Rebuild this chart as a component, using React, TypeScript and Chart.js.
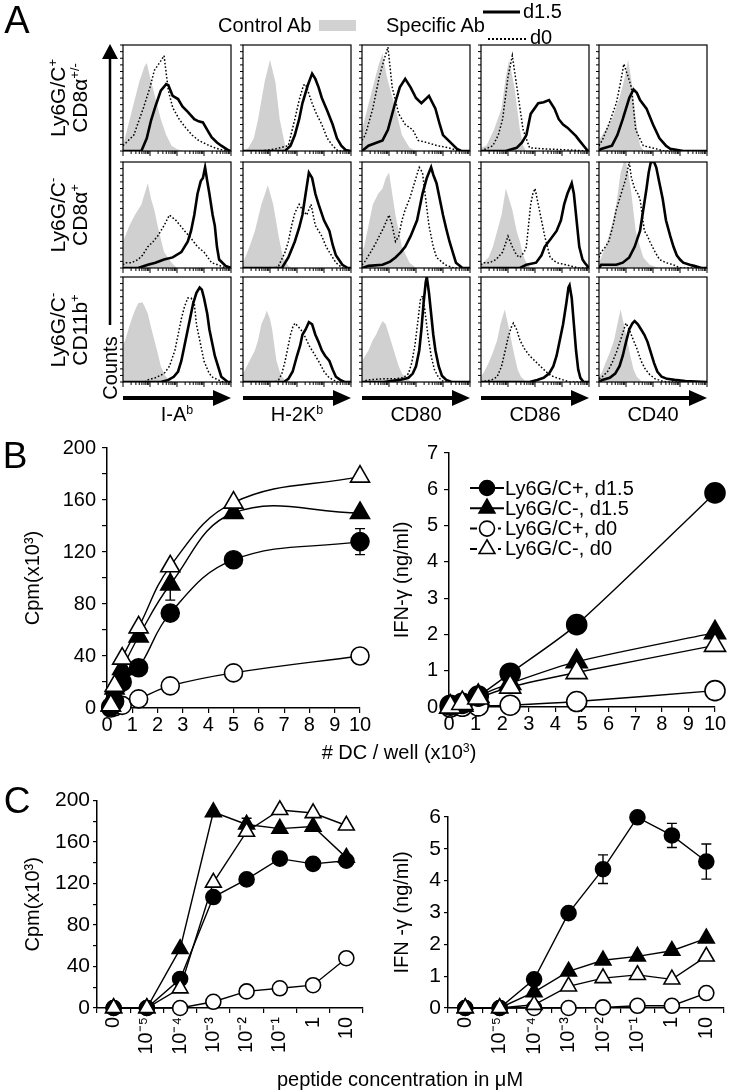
import React, { useEffect, useRef } from 'react';
import { Chart, registerables } from 'chart.js';

Chart.register(...registerables);

const FONT = "'Liberation Sans', Arial, Helvetica, sans-serif";
Chart.defaults.font.family = FONT;
Chart.defaults.color = '#000';

// ---------------- Panel A: histogram data ([fluorescence %, counts %]) ----------------
const h11Ctrl = [[0,5],[5,25],[10,45],[15,65],[20,80],[22,83],[25,70],[30,50],[35,30],[40,15],[45,5],[50,2],[55,0],[100,0]];
const h11D0 = [[0,5],[10,15],[19,41],[25,60],[29,76],[35,85],[38,90],[42,57],[46,41],[52,30],[58,22],[64,15],[70,10],[78,6],[85,3],[92,1],[100,0]];
const h11D15 = [[0,0],[17,0],[22,12],[26,29],[30,42],[35,57],[40,63],[42,62],[46,52],[51,49],[55,42],[60,37],[66,30],[70,28],[74,27],[78,20],[82,13],[87,8],[91,5],[97,1],[100,0]];

const h12Ctrl = [[0,0],[5,3],[10,12],[14,30],[20,65],[25,86],[30,65],[34,30],[39,5],[42,0],[100,0]];
const h12D0 = [[0,0],[17,0],[30,2],[42,5],[48,30],[52,48],[56,62],[58,63],[64,45],[68,35],[73,25],[78,12],[83,5],[88,0],[100,0]];
const h12D15 = [[0,0],[39,0],[44,5],[48,15],[52,30],[55,45],[60,62],[64,73],[67,68],[70,60],[73,50],[78,38],[83,25],[87,12],[91,5],[95,1],[100,0]];

const h13Ctrl = [[0,20],[5,40],[10,60],[15,80],[19,92],[23,70],[27,55],[31,40],[37,15],[44,3],[50,0],[100,0]];
const h13D0 = [[0,10],[3,15],[10,40],[16,70],[21,88],[24,98],[28,60],[34,35],[40,25],[47,20],[52,10],[60,8],[70,5],[80,3],[90,0],[100,0]];
const h13D15 = [[0,0],[6,5],[19,10],[24,20],[28,35],[32,50],[35,60],[40,68],[45,60],[50,50],[55,45],[62,52],[68,40],[72,25],[75,15],[80,10],[88,2],[92,0],[100,0]];

const h14Ctrl = [[0,3],[5,5],[12,20],[19,40],[23,70],[26,86],[31,60],[36,20],[39,5],[42,0],[100,0]];
const h14D0 = [[0,0],[11,5],[16,15],[20,30],[25,70],[29,90],[34,55],[39,20],[45,3],[60,2],[80,1],[100,0]];
const h14D15 = [[0,0],[23,0],[33,3],[38,8],[42,15],[46,35],[53,45],[58,46],[63,48],[68,40],[72,30],[76,25],[80,22],[84,18],[88,14],[91,10],[95,5],[99,0],[100,0]];

const h15Ctrl = [[0,10],[3,15],[12,30],[19,50],[24,70],[27,86],[31,60],[34,30],[38,5],[42,0],[100,0]];
const h15D0 = [[0,5],[3,10],[9,25],[16,45],[20,65],[23,82],[27,70],[30,60],[34,20],[41,5],[53,2],[60,0],[100,0]];
const h15D15 = [[0,0],[2,2],[12,5],[17,15],[22,30],[28,50],[32,58],[35,55],[38,48],[44,40],[50,25],[56,12],[62,5],[66,2],[78,0],[100,0]];

const h21Ctrl = [[0,25],[2,30],[6,40],[11,50],[17,60],[20,70],[23,80],[26,65],[29,55],[32,40],[38,15],[45,5],[50,0],[100,0]];
const h21D0 = [[0,3],[2,5],[8,5],[14,8],[18,12],[23,20],[28,25],[32,30],[38,40],[43,50],[49,45],[53,40],[57,35],[63,28],[69,20],[75,15],[82,5],[88,3],[95,0],[100,0]];
const h21D15 = [[0,0],[14,0],[23,3],[30,5],[38,8],[46,10],[54,15],[60,25],[63,35],[66,50],[69,70],[72,82],[74,85],[76,95],[78,82],[80,70],[83,50],[85,40],[87,20],[89,8],[95,2],[100,0]];

const h22Ctrl = [[0,5],[2,10],[6,20],[11,35],[17,60],[23,78],[28,60],[33,30],[37,10],[42,2],[46,0],[100,0]];
const h22D0 = [[0,0],[30,0],[33,2],[39,15],[42,25],[45,40],[48,52],[52,60],[55,55],[59,50],[63,60],[67,40],[70,35],[73,30],[77,20],[80,15],[86,5],[92,0],[100,0]];
const h22D15 = [[0,0],[36,0],[42,10],[48,25],[52,38],[55,50],[58,70],[61,90],[64,85],[67,70],[70,60],[75,45],[80,35],[83,22],[86,12],[92,3],[97,0],[100,0]];

const h23Ctrl = [[0,15],[2,20],[6,40],[10,60],[15,70],[19,75],[22,85],[25,90],[28,70],[31,50],[34,35],[37,20],[44,5],[50,0],[100,0]];
const h23D0 = [[0,3],[2,5],[8,15],[12,22],[16,30],[20,38],[25,50],[28,40],[31,25],[34,30],[37,45],[40,55],[44,65],[47,75],[50,85],[53,95],[56,90],[59,65],[62,40],[66,20],[69,10],[77,3],[85,0],[100,0]];
const h23D15 = [[0,0],[6,2],[19,3],[26,6],[31,10],[36,15],[40,20],[45,30],[51,45],[56,70],[60,85],[64,95],[66,88],[69,80],[72,65],[75,50],[78,37],[81,25],[84,15],[87,5],[93,0],[100,0]];

const h24Ctrl = [[0,3],[2,5],[7,10],[11,20],[15,35],[19,50],[23,75],[26,65],[29,55],[33,35],[36,25],[39,12],[42,5],[46,0],[100,0]];
const h24D0 = [[0,3],[2,5],[8,5],[14,8],[20,15],[25,30],[29,20],[33,12],[36,10],[40,15],[42,20],[44,40],[46,60],[48,70],[50,75],[52,65],[54,55],[57,40],[59,30],[62,18],[64,10],[70,5],[79,3],[90,0],[100,0]];
const h24D15 = [[0,0],[36,0],[42,3],[51,5],[56,12],[59,20],[65,28],[70,35],[74,45],[77,60],[80,70],[84,80],[86,70],[87,60],[89,40],[91,20],[94,8],[96,5],[100,0]];

const h25Ctrl = [[0,5],[2,10],[6,20],[9,30],[13,45],[16,60],[20,90],[23,100],[25,100],[28,85],[30,70],[34,35],[38,20],[41,10],[47,3],[55,0],[100,0]];
const h25D0 = [[0,10],[2,15],[6,20],[9,25],[13,40],[16,55],[19,65],[22,75],[25,85],[28,100],[30,85],[33,75],[36,70],[38,65],[40,50],[42,35],[45,30],[47,25],[52,15],[56,8],[62,5],[69,3],[75,0],[100,0]];
const h25D15 = [[0,0],[2,3],[16,3],[22,5],[28,10],[33,20],[38,35],[41,55],[44,75],[46,90],[48,100],[51,100],[53,95],[56,80],[59,65],[62,45],[66,30],[69,20],[72,12],[75,8],[78,5],[84,3],[88,2],[95,0],[100,0]];

const h31Ctrl = [[0,35],[2,40],[5,50],[8,60],[11,68],[14,75],[18,76],[20,72],[23,65],[26,52],[29,40],[32,28],[35,15],[39,6],[42,3],[46,0],[100,0]];
const h31D0 = [[0,0],[20,0],[23,2],[30,4],[38,8],[43,15],[48,30],[51,45],[54,60],[57,72],[60,80],[63,80],[66,75],[68,55],[71,40],[73,30],[75,20],[79,10],[82,5],[88,2],[93,0],[100,0]];
const h31D15 = [[0,0],[35,0],[42,2],[47,5],[51,10],[54,20],[57,35],[60,50],[63,65],[65,75],[68,85],[71,90],[73,88],[75,80],[78,65],[80,50],[83,35],[85,25],[88,15],[91,5],[97,0],[100,0]];

const h32Ctrl = [[0,8],[2,12],[6,20],[11,30],[14,40],[17,55],[20,62],[22,68],[25,60],[27,50],[29,35],[31,20],[34,10],[36,5],[40,1],[44,0],[100,0]];
const h32D0 = [[0,0],[30,0],[33,2],[36,8],[39,20],[42,35],[44,45],[46,52],[48,56],[51,53],[55,48],[58,42],[61,35],[64,30],[67,25],[71,18],[75,10],[79,5],[83,2],[88,0],[100,0]];
const h32D15 = [[0,0],[38,0],[42,3],[46,10],[50,25],[53,35],[55,45],[58,50],[61,57],[64,55],[67,45],[70,38],[73,30],[76,25],[80,20],[83,12],[86,5],[90,2],[94,0],[100,0]];

const h33Ctrl = [[0,20],[3,25],[6,30],[10,40],[13,45],[16,52],[19,58],[22,55],[25,45],[28,35],[31,25],[34,15],[37,8],[41,3],[46,0],[100,0]];
const h33D0 = [[0,0],[5,2],[20,3],[30,3],[38,4],[43,8],[46,18],[49,35],[52,60],[54,78],[56,82],[58,70],[61,45],[64,25],[67,12],[71,4],[76,0],[100,0]];
const h33D15 = [[0,0],[20,0],[35,2],[43,4],[47,8],[50,15],[53,30],[55,50],[57,75],[59,95],[60,100],[62,85],[64,65],[66,45],[68,30],[71,15],[74,6],[78,2],[83,0],[100,0]];

const h34Ctrl = [[0,5],[3,10],[7,18],[11,28],[15,40],[18,55],[22,69],[25,55],[28,40],[31,25],[34,12],[37,5],[41,1],[45,0],[100,0]];
const h34D0 = [[0,0],[10,2],[15,5],[19,15],[22,28],[25,42],[28,52],[30,56],[33,50],[36,40],[40,32],[45,25],[50,20],[55,15],[60,10],[65,6],[70,4],[76,2],[82,0],[100,0]];
const h34D15 = [[0,0],[45,0],[52,2],[58,4],[63,8],[67,15],[70,25],[73,40],[76,55],[79,75],[81,90],[82,92],[84,80],[86,55],[88,30],[90,12],[92,4],[95,0],[100,0]];

const h35Ctrl = [[0,5],[3,10],[6,18],[10,28],[14,40],[17,55],[20,69],[23,55],[26,40],[29,25],[32,12],[35,5],[39,1],[43,0],[100,0]];
const h35D0 = [[0,3],[3,5],[8,10],[12,18],[16,28],[20,40],[23,50],[25,56],[28,50],[31,42],[35,32],[39,20],[43,12],[47,7],[52,3],[58,1],[64,0],[100,0]];
const h35D15 = [[0,0],[3,2],[10,4],[15,8],[19,15],[22,25],[25,38],[28,50],[31,56],[33,58],[36,55],[39,50],[42,45],[45,38],[48,28],[51,18],[54,10],[58,5],[63,3],[70,2],[80,1],[100,0]];

const histRows = [
  [[h11Ctrl, h11D0, h11D15], [h12Ctrl, h12D0, h12D15], [h13Ctrl, h13D0, h13D15], [h14Ctrl, h14D0, h14D15], [h15Ctrl, h15D0, h15D15]],
  [[h21Ctrl, h21D0, h21D15], [h22Ctrl, h22D0, h22D15], [h23Ctrl, h23D0, h23D15], [h24Ctrl, h24D0, h24D15], [h25Ctrl, h25D0, h25D15]],
  [[h31Ctrl, h31D0, h31D15], [h32Ctrl, h32D0, h32D15], [h33Ctrl, h33D0, h33D15], [h34Ctrl, h34D0, h34D15], [h35Ctrl, h35D0, h35D15]],
];

// ---------------- Panel B data ----------------
const bDcX = [0.15, 0.3, 0.6, 1.25, 2.5, 5, 10];
const bCpmPosD15 = [1, 5, 20, 31, 73, 114, 128];
const bCpmPosD15Err = [0, 0, 0, 0, 0, 0, 10];
const bCpmNegD15 = [2, 15, 30, 55, 95, 150, 150];
const bCpmNegD15Err = [0, 0, 0, 0, 12, 0, 0];
const bCpmPosD0 = [0, 1, 2, 7, 17, 27, 40];
const bCpmNegD0 = [2, 17, 38, 62, 109, 158, 178];

const bIfnX = [0.05, 0.5, 1.1, 2.3, 4.8, 10];
const bIfnPosD15 = [0.05, 0.1, 0.3, 0.93, 2.27, 5.9];
const bIfnNegD15 = [0, 0.05, 0.3, 0.65, 1.25, 2.05];
const bIfnPosD0 = [0, 0.02, 0.03, 0.05, 0.15, 0.45];
const bIfnNegD0 = [0, 0.1, 0.25, 0.55, 0.95, 1.7];

// ---------------- Panel C data ----------------
const cConcLabels = ['0', '10⁻⁵', '10⁻⁴', '10⁻³', '10⁻²', '10⁻¹', '1', '10'];
const cCpmPosD15 = [0, 0, 28, 107, 124, 144, 139, 142];
const cCpmNegD15 = [0, 0, 57, 189, 177, 173, 175, 145];
const cCpmNegD15Err = [0, 0, 0, 0, 6, 0, 0, 0];
const cCpmPosD0 = [0, 0, 0, 6, 16, 19, 22, 48];
const cCpmNegD0 = [0, 0, 19, 121, 170, 191, 188, 176];

const cIfnPosD15 = [0, 0, 0.9, 2.98, 4.36, 5.99, 5.42, 4.6];
const cIfnPosD15Err = [0, 0, 0, 0, 0.45, 0, 0.38, 0.55];
const cIfnNegD15 = [0, 0, 0.5, 1.15, 1.5, 1.62, 1.8, 2.19];
const cIfnPosD0 = [0, 0, 0, 0, 0.02, 0.07, 0.07, 0.47];
const cIfnNegD0 = [0, 0, 0.1, 0.68, 0.94, 1.04, 0.9, 1.62];

const legendLabels = ['Ly6G/C+, d1.5', 'Ly6G/C-, d1.5', 'Ly6G/C+, d0', 'Ly6G/C-, d0'];

// ---------------- layout ----------------
const colLefts = [123, 243, 362, 481, 599];
const colW = 108;
const rowTops = [45, 162, 277];
const rowHs = [106, 106, 105];

// ---------------- plugins ----------------
const histFrame = {
  id: 'histFrame',
  afterDraw(chart: any) {
    const { ctx, chartArea } = chart;
    const { left, top, right, bottom } = chartArea;
    ctx.save();
    ctx.strokeStyle = '#000';
    ctx.lineWidth = 1.2;
    ctx.strokeRect(left, top, right - left, bottom - top);
    ctx.lineWidth = 1;
    const w = right - left;
    ctx.beginPath();
    for (let d = 0; d < 4; d++) {
      for (let k = 1; k < 10; k++) {
        const x = left + ((d + Math.log10(k)) / 4) * w;
        const len = k === 1 ? 5 : 3;
        ctx.moveTo(x, bottom);
        ctx.lineTo(x, bottom + len);
      }
    }
    ctx.moveTo(right, bottom);
    ctx.lineTo(right, bottom + 5);
    const h = bottom - top;
    for (let i = 0; i <= 16; i++) {
      const y = bottom - (i * h) / 16;
      ctx.moveTo(left - 3, y);
      ctx.lineTo(left, y);
    }
    ctx.stroke();
    ctx.restore();
  },
};

const errorBars = {
  id: 'errorBars',
  beforeDatasetsDraw(chart: any) {
    const ctx = chart.ctx;
    const ys = chart.scales.y;
    chart.data.datasets.forEach((ds: any, i: number) => {
      const errs = ds.errors;
      if (!errs) return;
      const meta = chart.getDatasetMeta(i);
      meta.data.forEach((pt: any, j: number) => {
        const e = errs[j];
        if (!e) return;
        const raw = ds.data[j];
        const v = typeof raw === 'number' ? raw : raw.y;
        const yt = ys.getPixelForValue(v + e);
        const yb = ys.getPixelForValue(v - e);
        ctx.save();
        ctx.strokeStyle = '#000';
        ctx.lineWidth = 1.4;
        ctx.beginPath();
        ctx.moveTo(pt.x, yt);
        ctx.lineTo(pt.x, yb);
        ctx.moveTo(pt.x - 5, yt);
        ctx.lineTo(pt.x + 5, yt);
        ctx.moveTo(pt.x - 5, yb);
        ctx.lineTo(pt.x + 5, yb);
        ctx.stroke();
        ctx.restore();
      });
    });
  },
};

function drawMarker(ctx: any, kind: string, x: number, y: number, r: number) {
  const filled = kind === 'fc' || kind === 'ft';
  ctx.beginPath();
  if (kind === 'fc' || kind === 'oc') {
    ctx.arc(x, y, r, 0, Math.PI * 2);
  } else {
    const R = r * 1.22;
    let a = 0;
    ctx.moveTo(x + Math.sin(a) * R, y - Math.cos(a) * R);
    a += (2 * Math.PI) / 3;
    ctx.lineTo(x + Math.sin(a) * R, y - Math.cos(a) * R);
    a += (2 * Math.PI) / 3;
    ctx.lineTo(x + Math.sin(a) * R, y - Math.cos(a) * R);
    ctx.closePath();
  }
  ctx.fillStyle = filled ? '#000' : '#fff';
  ctx.fill();
  ctx.lineWidth = 1.6;
  ctx.strokeStyle = '#000';
  ctx.stroke();
}

const bLegend = {
  id: 'bLegend',
  afterDraw(chart: any) {
    const ctx = chart.ctx;
    const x0 = 95;
    const y0 = 58;
    const dy = 20.3;
    const kinds = ['fc', 'ft', 'oc', 'ot'];
    ctx.save();
    legendLabels.forEach((lab, i) => {
      const y = y0 + i * dy;
      const kind = kinds[i];
      ctx.strokeStyle = '#000';
      ctx.lineWidth = 2;
      ctx.beginPath();
      if (kind === 'oc' || kind === 'ot') {
        ctx.moveTo(x0, y);
        ctx.lineTo(x0 + 7, y);
        ctx.moveTo(x0 + 28, y);
        ctx.lineTo(x0 + 31, y);
      } else {
        ctx.moveTo(x0, y);
        ctx.lineTo(x0 + 34, y);
      }
      ctx.stroke();
      drawMarker(ctx, kind, x0 + 17, y, 7.5);
      ctx.fillStyle = '#000';
      ctx.font = `20px ${FONT}`;
      ctx.textBaseline = 'middle';
      ctx.textAlign = 'left';
      ctx.fillText(lab, x0 + 35, y + 1);
    });
    ctx.restore();
  },
};

// ---------------- helpers ----------------
function pts(xs: number[], ys: number[]) {
  return xs.map((x, i) => ({ x, y: ys[i] }));
}

function seriesDs(label: string, data: any, kind: string, r: number, tension: number, errors?: number[]) {
  const filled = kind === 'fc' || kind === 'ft';
  const tri = kind === 'ft' || kind === 'ot';
  return {
    label,
    data,
    errors,
    borderColor: '#000',
    borderWidth: 1.4,
    pointStyle: tri ? 'triangle' : 'circle',
    pointRadius: tri ? r * 1.22 : r,
    pointBackgroundColor: filled ? '#000' : '#fff',
    pointBorderColor: '#000',
    pointBorderWidth: 1.6,
    tension,
    clip: false,
    fill: false,
    order: kind === 'ot' ? 0 : kind === 'fc' ? 1 : kind === 'ft' ? 2 : 3,
  };
}

function yAxis(o: any) {
  return {
    type: 'linear',
    min: o.min,
    max: o.max,
    afterFit: (s: any) => {
      s.width = o.width;
    },
    ticks: {
      stepSize: o.step,
      autoSkip: false,
      padding: o.pad,
      font: { size: o.size, family: FONT },
      color: '#000',
      callback: (v: number) => {
        const q = v / o.every;
        return Math.abs(q - Math.round(q)) < 1e-6 ? String(v) : '';
      },
    },
    grid: { drawOnChartArea: false, drawTicks: true, tickLength: o.tickLen, color: '#000', lineWidth: 1.2 },
    border: { display: true, color: '#000', width: 1.5 },
    title: { display: true, text: o.title, font: { size: 20, family: FONT }, color: '#000', padding: 0 },
  };
}

function xLinear(height: number) {
  return {
    type: 'linear',
    min: 0,
    max: 10,
    afterFit: (s: any) => {
      s.height = height;
    },
    ticks: { stepSize: 1, autoSkip: false, padding: 0, maxRotation: 0, font: { size: 20, family: FONT }, color: '#000' },
    grid: { drawOnChartArea: false, drawTicks: true, tickLength: 5, color: '#000', lineWidth: 1.2 },
    border: { display: true, color: '#000', width: 1.5 },
  };
}

function xCategory() {
  return {
    type: 'category',
    offset: true,
    afterFit: (s: any) => {
      s.height = 52;
    },
    ticks: { autoSkip: false, minRotation: 90, maxRotation: 90, padding: 4, font: { size: 20, family: FONT }, color: '#000' },
    grid: { offset: true, drawOnChartArea: false, drawTicks: true, tickLength: 5, color: '#000', lineWidth: 1.2 },
    border: { display: true, color: '#000', width: 1.5 },
  };
}

const baseOpts = {
  animation: false,
  responsive: false,
  maintainAspectRatio: false,
  events: [],
  plugins: { legend: { display: false }, tooltip: { enabled: false } },
};

function ChartCanvas({ left, top, width, height, make }: any) {
  const ref = useRef<HTMLCanvasElement>(null);
  useEffect(() => {
    const c = new Chart(ref.current as HTMLCanvasElement, make());
    return () => c.destroy();
  }, []);
  return (
    <canvas
      ref={ref}
      width={width}
      height={height}
      style={{ position: 'absolute', left, top, width, height }}
    />
  );
}

function makeHist(ctrl: number[][], d0: number[][], d15: number[][]) {
  const toPts = (a: number[][]) => a.map(([x, y]) => ({ x, y }));
  return () => ({
    type: 'line',
    data: {
      datasets: [
        { data: toPts(d15), borderColor: '#000', borderWidth: 2.6, pointRadius: 0, fill: false, tension: 0 },
        { data: toPts(d0), borderColor: '#000', borderWidth: 1.5, borderDash: [1.6, 2], pointRadius: 0, fill: false, tension: 0 },
        { data: toPts(ctrl), borderColor: 'rgba(0,0,0,0)', borderWidth: 0, backgroundColor: '#d0d0d0', pointRadius: 0, fill: 'origin', tension: 0 },
      ],
    },
    options: {
      ...baseOpts,
      layout: { padding: { left: 6, bottom: 6, top: 1, right: 1 } },
      scales: {
        x: { type: 'linear', min: 0, max: 100, display: false },
        y: { type: 'linear', min: 0, max: 100, display: false },
      },
    },
    plugins: [histFrame],
  });
}

const makeBLeft = () => ({
  type: 'line',
  data: {
    datasets: [
      seriesDs('Ly6G/C+, d1.5', pts(bDcX, bCpmPosD15), 'fc', 9, 0.4, bCpmPosD15Err),
      seriesDs('Ly6G/C-, d1.5', pts(bDcX, bCpmNegD15), 'ft', 9, 0.4, bCpmNegD15Err),
      seriesDs('Ly6G/C+, d0', pts(bDcX, bCpmPosD0), 'oc', 9, 0.4),
      seriesDs('Ly6G/C-, d0', pts(bDcX, bCpmNegD0), 'ot', 9, 0.4),
    ],
  },
  options: {
    ...baseOpts,
    layout: { padding: { left: 21, top: 15, right: 15, bottom: 0 } },
    scales: {
      x: xLinear(32),
      y: yAxis({ min: 0, max: 200, step: 20, every: 40, width: 86, pad: 6, size: 20, tickLen: 5, title: 'Cpm(x10³)' }),
    },
  },
  plugins: [errorBars],
});

const makeBRight = () => ({
  type: 'line',
  data: {
    datasets: [
      seriesDs('Ly6G/C+, d1.5', pts(bIfnX, bIfnPosD15), 'fc', 10, 0.25),
      seriesDs('Ly6G/C-, d1.5', pts(bIfnX, bIfnNegD15), 'ft', 10, 0.25),
      seriesDs('Ly6G/C+, d0', pts(bIfnX, bIfnPosD0), 'oc', 10, 0.25),
      seriesDs('Ly6G/C-, d0', pts(bIfnX, bIfnNegD0), 'ot', 10, 0.25),
    ],
  },
  options: {
    ...baseOpts,
    layout: { padding: { left: 15, top: 23, right: 20, bottom: 0 } },
    scales: {
      x: xLinear(33),
      y: yAxis({ min: 0, max: 7, step: 1, every: 1, width: 59, pad: 6, size: 20, tickLen: 5, title: 'IFN-γ (ng/ml)' }),
    },
  },
  plugins: [errorBars, bLegend],
});

const makeCLeft = () => ({
  type: 'line',
  data: {
    labels: cConcLabels,
    datasets: [
      seriesDs('Ly6G/C+, d1.5', cCpmPosD15, 'fc', 7.5, 0),
      seriesDs('Ly6G/C-, d1.5', cCpmNegD15, 'ft', 7.5, 0, cCpmNegD15Err),
      seriesDs('Ly6G/C+, d0', cCpmPosD0, 'oc', 7.5, 0),
      seriesDs('Ly6G/C-, d0', cCpmNegD0, 'ot', 7.5, 0),
    ],
  },
  options: {
    ...baseOpts,
    layout: { padding: { left: 21, top: 15, right: 6, bottom: 0 } },
    scales: {
      x: xCategory(),
      y: yAxis({ min: 0, max: 200, step: 20, every: 40, width: 76, pad: 3, size: 21, tickLen: 4, title: 'Cpm(x10³)' }),
    },
  },
  plugins: [errorBars],
});

const makeCRight = () => ({
  type: 'line',
  data: {
    labels: cConcLabels,
    datasets: [
      seriesDs('Ly6G/C+, d1.5', cIfnPosD15, 'fc', 7.5, 0, cIfnPosD15Err),
      seriesDs('Ly6G/C-, d1.5', cIfnNegD15, 'ft', 7.5, 0),
      seriesDs('Ly6G/C+, d0', cIfnPosD0, 'oc', 7.5, 0),
      seriesDs('Ly6G/C-, d0', cIfnNegD0, 'ot', 7.5, 0),
    ],
  },
  options: {
    ...baseOpts,
    layout: { padding: { left: 15, top: 27, right: 4, bottom: 0 } },
    scales: {
      x: xCategory(),
      y: yAxis({ min: 0, max: 6, step: 1, every: 1, width: 58, pad: 3, size: 21, tickLen: 4, title: 'IFN -γ (ng/ml)' }),
    },
  },
  plugins: [errorBars],
});

// ---------------- text helpers ----------------
const textBase: React.CSSProperties = {
  position: 'absolute',
  fontFamily: FONT,
  color: '#000',
  whiteSpace: 'nowrap',
  lineHeight: 1,
};

function Sup({ children }: any) {
  return <span style={{ fontSize: '0.62em', verticalAlign: '0.6em', lineHeight: 0 }}>{children}</span>;
}

function CText({ x, y, size, children, rotate }: any) {
  return (
    <div
      style={{
        ...textBase,
        left: x,
        top: y,
        fontSize: size,
        transform: `translate(-50%, -50%)${rotate ? ' rotate(-90deg)' : ''}`,
        textAlign: 'center',
      }}
    >
      {children}
    </div>
  );
}

function LText({ x, y, size, children }: any) {
  return (
    <div style={{ ...textBase, left: x, top: y, fontSize: size, transform: 'translateY(-50%)' }}>{children}</div>
  );
}

const rowLabels = [
  [<>Ly6G/C<Sup>+</Sup></>, <>CD8α<Sup>+/-</Sup></>],
  [<>Ly6G/C<Sup>-</Sup></>, <>CD8α<Sup>+</Sup></>],
  [<>Ly6G/C<Sup>-</Sup></>, <>CD11b<Sup>+</Sup></>],
];
const colLabels = [
  <>I-A<Sup>b</Sup></>,
  <>H-2K<Sup>b</Sup></>,
  <>CD80</>,
  <>CD86</>,
  <>CD40</>,
];

export default function App() {
  return (
    <div
      style={{
        position: 'absolute',
        left: 0,
        top: 0,
        width: 735,
        height: 1092,
        background: '#fff',
        overflow: 'hidden',
      }}
    >
      {histRows.map((row, r) =>
        row.map(([ctrl, d0, d15], c) => (
          <ChartCanvas
            key={`h${r}${c}`}
            left={colLefts[c] - 6}
            top={rowTops[r] - 1}
            width={colW + 7}
            height={rowHs[r] + 7}
            make={makeHist(ctrl, d0, d15)}
          />
        ))
      )}

      <ChartCanvas left={0} top={430} width={375} height={310} make={makeBLeft} />
      <ChartCanvas left={375} top={430} width={360} height={310} make={makeBRight} />
      <ChartCanvas left={0} top={785} width={375} height={275} make={makeCLeft} />
      <ChartCanvas left={375} top={790} width={360} height={270} make={makeCRight} />

      <svg
        width={735}
        height={1092}
        style={{ position: 'absolute', left: 0, top: 0, pointerEvents: 'none' }}
      >
        <rect x={319} y={20} width={37} height={11} fill="#d2d2d2" />
        <line x1={483} y1={12} x2={520} y2={12} stroke="#000" strokeWidth={3} />
        <line x1={488} y1={39} x2={526} y2={39} stroke="#000" strokeWidth={2.2} strokeDasharray="2 2" />
        <line x1={110} y1={56} x2={110} y2={325} stroke="#000" strokeWidth={2.5} />
        <polygon points="110,44 102,59 118,59" fill="#000" />
        {colLefts.map((l, i) => (
          <g key={`ar${i}`}>
            <line x1={l} y1={398} x2={l + 92} y2={398} stroke="#000" strokeWidth={4} />
            <polygon points={`${l + colW},398 ${l + 90},390 ${l + 90},406`} fill="#000" />
          </g>
        ))}
      </svg>

      <CText x={17} y={20} size={38}>A</CText>
      <CText x={15} y={455} size={37}>B</CText>
      <CText x={17} y={800} size={37}>C</CText>

      <LText x={218} y={25} size={20}>Control Ab</LText>
      <LText x={386} y={25} size={20}>Specific Ab</LText>
      <LText x={523} y={11} size={20}>d1.5</LText>
      <LText x={530} y={37} size={20}>d0</LText>

      {rowLabels.map((lines, r) => (
        <div
          key={`rl${r}`}
          style={{
            ...textBase,
            left: 69,
            top: rowTops[r] + rowHs[r] / 2,
            fontSize: 21,
            lineHeight: '22px',
            textAlign: 'center',
            transform: 'translate(-50%, -50%) rotate(-90deg)',
          }}
        >
          {lines[0]}
          <br />
          {lines[1]}
        </div>
      ))}

      <CText x={110} y={368} size={20} rotate>Counts</CText>

      {colLabels.map((lab, i) => (
        <CText key={`cl${i}`} x={colLefts[i] + colW / 2} y={414} size={20}>
          {lab}
        </CText>
      ))}

      <CText x={399} y={752} size={20}>
        # DC / well (x10<Sup>3</Sup>)
      </CText>
      <CText x={400} y={1079} size={20}>peptide concentration in μM</CText>
    </div>
  );
}
